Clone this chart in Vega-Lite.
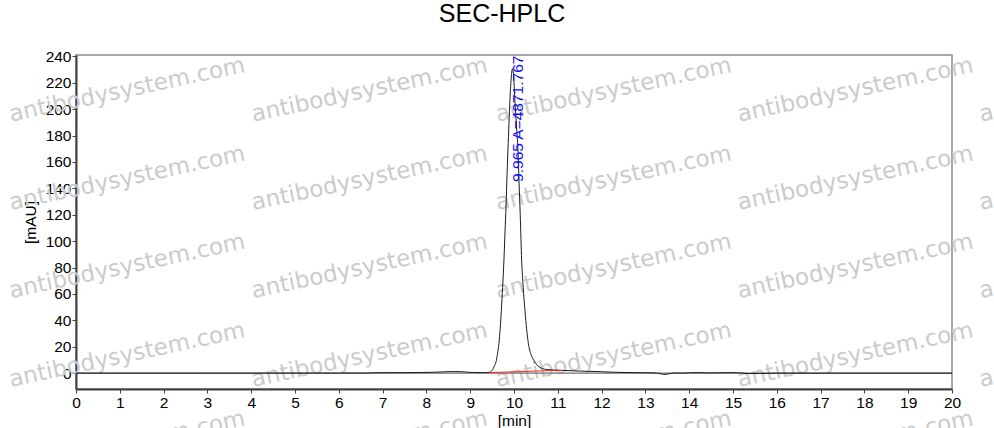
{
  "$schema": "https://vega.github.io/schema/vega-lite/v6.json",
  "width": 876,
  "height": 334,
  "autosize": "none",
  "padding": {"left": 76, "top": 55, "right": 42, "bottom": 39},
  "background": "white",
  "title": {"text": "SEC-HPLC", "font": "Liberation Sans", "fontSize": 25, "fontWeight": "normal", "color": "#000000", "anchor": "middle", "frame": "group", "dx": -12, "offset": 22},
  "config": {
    "view": {"stroke": "#8c8c8c", "strokeWidth": 1.5},
    "axis": {
      "labelFont": "Liberation Sans", "labelFontSize": 15.5, "labelColor": "#000000",
      "titleFont": "Liberation Sans", "titleFontSize": 15.5, "titleFontWeight": "normal", "titleColor": "#000000",
      "domainColor": "#404040", "domainWidth": 2, "tickColor": "#404040", "tickSize": 4, "grid": false,
      "labelFlush": false, "labelOverlap": false
    }
  },
  "datasets": {
    "wm": [
      {"x": -1.485, "y": 190.4}, {"x": 4.049, "y": 190.4}, {"x": 9.622, "y": 190.4}, {"x": 15.142, "y": 190.4}, {"x": 20.663, "y": 190.4},
      {"x": -1.485, "y": 123.5}, {"x": 4.049, "y": 123.5}, {"x": 9.622, "y": 123.5}, {"x": 15.142, "y": 123.5}, {"x": 20.663, "y": 123.5},
      {"x": -1.485, "y": 56.8}, {"x": 4.049, "y": 56.8}, {"x": 9.622, "y": 56.8}, {"x": 15.142, "y": 56.8}, {"x": 20.663, "y": 56.8},
      {"x": -1.485, "y": -10.4}, {"x": 4.049, "y": -10.4}, {"x": 9.622, "y": -10.4}, {"x": 15.142, "y": -10.4}, {"x": 20.663, "y": -10.4},
      {"x": -1.485, "y": -77.3}, {"x": 4.049, "y": -77.3}, {"x": 9.622, "y": -77.3}, {"x": 15.142, "y": -77.3}, {"x": 20.663, "y": -77.3}
    ],
    "zero": [{"x": 0, "y": 0}, {"x": 20, "y": 0}],
    "trace": [
      {"x": 0, "y": 0}, {"x": 3, "y": 0}, {"x": 6.7, "y": 0.05}, {"x": 6.8, "y": 0.3}, {"x": 7.5, "y": 0.4},
      {"x": 8.2, "y": 0.7}, {"x": 8.6, "y": 1.2}, {"x": 8.8, "y": 1.1}, {"x": 9.0, "y": 0.6}, {"x": 9.3, "y": 0.4},
      {"x": 9.4, "y": 0.5}, {"x": 9.44, "y": 0.7}, {"x": 9.466, "y": 1.0}, {"x": 9.5, "y": 2.0}, {"x": 9.528, "y": 3.6},
      {"x": 9.56, "y": 6.0}, {"x": 9.597, "y": 9.6}, {"x": 9.625, "y": 15}, {"x": 9.656, "y": 22.5}, {"x": 9.685, "y": 34},
      {"x": 9.711, "y": 47.5}, {"x": 9.74, "y": 65}, {"x": 9.77, "y": 85.4}, {"x": 9.79, "y": 103}, {"x": 9.812, "y": 121},
      {"x": 9.836, "y": 145}, {"x": 9.861, "y": 168.7}, {"x": 9.885, "y": 189}, {"x": 9.907, "y": 206.6}, {"x": 9.94, "y": 225},
      {"x": 9.965, "y": 230.7}, {"x": 9.99, "y": 226}, {"x": 10.02, "y": 206.6}, {"x": 10.055, "y": 188}, {"x": 10.09, "y": 168.7},
      {"x": 10.115, "y": 145}, {"x": 10.142, "y": 120}, {"x": 10.175, "y": 85.4}, {"x": 10.21, "y": 65}, {"x": 10.25, "y": 47.5},
      {"x": 10.29, "y": 33}, {"x": 10.328, "y": 22.5}, {"x": 10.39, "y": 14}, {"x": 10.455, "y": 9.6}, {"x": 10.53, "y": 6},
      {"x": 10.61, "y": 4.0}, {"x": 10.7, "y": 3.0}, {"x": 10.8, "y": 2.6}, {"x": 10.95, "y": 2.3}, {"x": 11.1, "y": 2.1},
      {"x": 11.5, "y": 1.6}, {"x": 12.0, "y": 1.1}, {"x": 12.27, "y": 0.7}, {"x": 12.8, "y": 0.4}, {"x": 13.2, "y": 0.2},
      {"x": 13.35, "y": -0.5}, {"x": 13.42, "y": -1.0}, {"x": 13.5, "y": -0.8}, {"x": 13.64, "y": 0.2}, {"x": 13.8, "y": 0.0},
      {"x": 14.0, "y": 0.3}, {"x": 14.18, "y": 0.4}, {"x": 14.5, "y": 0.2}, {"x": 14.94, "y": 0.4}, {"x": 15.2, "y": 0.1},
      {"x": 15.35, "y": -0.3}, {"x": 15.6, "y": -0.2}, {"x": 16.0, "y": 0}, {"x": 20, "y": 0}
    ],
    "base": [{"x": 9.45, "y": 0.4}, {"x": 11.08, "y": 2.2}],
    "peak": [{"x": 9.965, "y": 230.7, "label": "9.965 A=4871.767"}]
  },
  "encoding": {
    "x": {"field": "x", "type": "quantitative", "scale": {"domain": [0, 20], "nice": false, "zero": false},
          "axis": {"title": "[min]", "tickCount": 20, "labelPadding": 2, "titlePadding": 3}},
    "y": {"field": "y", "type": "quantitative", "scale": {"domain": [-12, 241], "nice": false, "zero": false},
          "axis": {"title": "[mAU]", "tickCount": 12, "labelPadding": 1, "titlePadding": 7}}
  },
  "layer": [
    {
      "data": {"name": "wm"},
      "mark": {"type": "text", "text": "antibodysystem.com", "font": "DejaVu Sans", "fontSize": 23, "color": "#cbcbcb", "align": "left", "baseline": "alphabetic", "angle": 348, "clip": false}
    },
    {
      "data": {"name": "zero"},
      "mark": {"type": "line", "color": "#707070", "strokeWidth": 1.2}
    },
    {
      "data": {"name": "trace"},
      "mark": {"type": "line", "color": "#1a1a1a", "strokeWidth": 1, "interpolate": "monotone"}
    },
    {
      "data": {"name": "base"},
      "mark": {"type": "line", "color": "#ff2020", "strokeWidth": 1}
    },
    {
      "data": {"name": "peak"},
      "mark": {"type": "text", "font": "Liberation Sans", "fontSize": 15.5, "color": "#1010ff", "angle": 270, "align": "right", "baseline": "middle", "dx": 13, "dy": 6},
      "encoding": {"text": {"field": "label", "type": "nominal"}}
    }
  ]
}
